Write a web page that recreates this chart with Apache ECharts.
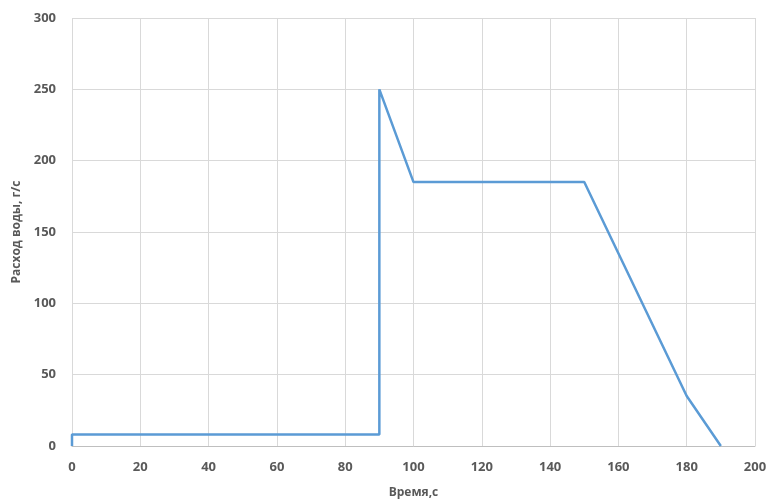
<!DOCTYPE html>
<html><head><meta charset="utf-8">
<script src="https://cdn.jsdelivr.net/npm/echarts@6/dist/echarts.min.js"></script>
<style>html,body{margin:0;padding:0;background:#fff}#c{width:771px;height:500px}</style>
</head><body><div id="c"></div>
<script>
var timeValues = [0, 0, 90, 90, 100, 150, 180, 190];
var flowValues = [0, 8, 8, 250, 185, 185, 35, 0];
var xTicks = {min: 0, max: 200, interval: 20};
var yTicks = {min: 0, max: 300, interval: 50};
var xName = 'Время,с';
var yName = 'Расход воды, г/с';

var data = timeValues.map(function (t, i) { return [t, flowValues[i]]; });
var chart = echarts.init(document.getElementById('c'));
var labelStyle = {color: '#595959', fontSize: 13, fontWeight: 'bold', fontFamily: 'Open Sans'};
chart.setOption({
  animation: false,
  grid: {left: 72, right: 16, top: 18, bottom: 54, containLabel: false, outerBoundsMode: 'none'},
  xAxis: {
    type: 'value', min: xTicks.min, max: xTicks.max, interval: xTicks.interval,
    name: xName, nameLocation: 'middle', nameGap: 41,
    nameTextStyle: {color: '#595959', fontSize: 12, fontWeight: 'bold', fontFamily: 'Open Sans'},
    axisLine: {show: true, lineStyle: {color: '#bfbfbf'}},
    axisTick: {show: false},
    axisLabel: Object.assign({margin: 15}, labelStyle),
    splitLine: {show: true, lineStyle: {color: '#d9d9d9'}}
  },
  yAxis: {
    type: 'value', min: yTicks.min, max: yTicks.max, interval: yTicks.interval,
    name: yName, nameLocation: 'middle', nameGap: 48,
    nameTextStyle: {color: '#595959', fontSize: 12, fontWeight: 'bold', fontFamily: 'Open Sans'},
    axisLine: {show: false},
    axisTick: {show: false},
    axisLabel: Object.assign({margin: 16}, labelStyle),
    splitLine: {show: true, lineStyle: {color: '#d9d9d9'}}
  },
  series: [{
    type: 'line', data: data, showSymbol: false, symbol: 'none',
    lineStyle: {color: '#5b9bd5', width: 2.5}
  }]
});
</script></body></html>
